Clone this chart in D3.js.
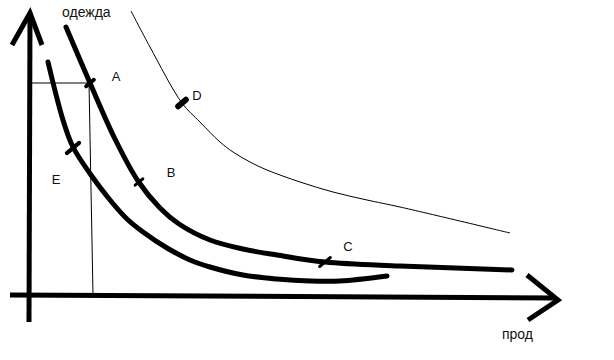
<!DOCTYPE html>
<html><head><meta charset="utf-8">
<script src="https://cdn.jsdelivr.net/npm/d3@7"></script>
<style>html,body{margin:0;padding:0;background:#fff;}svg{display:block;}</style>
</head><body><div id="chart"></div>
<script>
// Axis labels
const yAxisLabel = "одежда";
const xAxisLabel = "прод";

// Indifference curves (x = quantity of food, y = quantity of clothing)
const curveABC_x = [37, 61, 86, 109, 131, 150, 181, 214, 248, 296, 371, 483];
const curveABC_y = [268, 212, 156, 114, 87, 71, 55, 46, 40, 33, 29, 25];

const curveE_x = [19, 34, 44, 62, 81, 98, 114, 138, 161, 181, 214, 248, 281, 311, 358];
const curveE_y = [233, 175, 148, 120, 95, 76, 63, 47, 35, 28, 20, 16, 14, 14, 19];

const curveD_x = [102, 121, 153, 171, 191, 204, 221, 238, 271, 304, 338, 371, 481];
const curveD_y = [284, 248, 192, 173, 153, 143, 133, 125, 113, 103, 95, 88, 62];

// Marked bundles
const pointNames = ["A", "B", "C", "D", "E"];
const pointX = [61, 110, 296, 153, 44];
const pointY = [212, 113, 33, 192, 147];

const W = 614, H = 360;
const svg = d3.select("#chart").append("svg").attr("width", W).attr("height", H);

const x = d3.scaleLinear().domain([0, 530]).range([29, 559]);
const y = d3.scaleLinear().domain([0, 300]).range([295, -5]);

const zip = (a, b) => a.map((v, i) => [v, b[i]]);
const line = d3.line().x(d => x(d[0])).y(d => y(d[1])).curve(d3.curveCatmullRom.alpha(0.5));

// guide lines for A
const ai = 0;
svg.append("line").attr("x1", x(0)+2).attr("y1", y(pointY[ai])).attr("x2", x(pointX[ai])).attr("y2", y(pointY[ai]))
  .attr("stroke", "#000").attr("stroke-width", 1);
svg.append("line").attr("x1", x(pointX[ai])-1).attr("y1", y(pointY[ai])).attr("x2", x(pointX[ai])+3).attr("y2", y(0))
  .attr("stroke", "#000").attr("stroke-width", 1);

// curves
svg.append("path").attr("d", line(zip(curveD_x, curveD_y))).attr("fill", "none").attr("stroke", "#000").attr("stroke-width", 1);
svg.append("path").attr("d", line(zip(curveABC_x, curveABC_y))).attr("fill", "none").attr("stroke", "#000").attr("stroke-width", 5).attr("stroke-linecap", "round");
svg.append("path").attr("d", line(zip(curveE_x, curveE_y))).attr("fill", "none").attr("stroke", "#000").attr("stroke-width", 5).attr("stroke-linecap", "round");

// axes
const ax = svg.append("g").attr("stroke", "#000").attr("stroke-width", 5).attr("fill", "none").attr("stroke-linecap", "butt");
ax.append("line").attr("x1", x(0)).attr("y1", y(-27)).attr("x2", x(0)+1).attr("y2", y(282));
ax.append("path").attr("d", `M${x(-17)},${y(250)} L${x(1)},${y(282)} L${x(13)},${y(250)}`).attr("stroke-linejoin", "miter");
ax.append("line").attr("x1", x(-19)).attr("y1", y(0)).attr("x2", x(527)).attr("y2", y(-3));
ax.append("path").attr("d", `M${x(498)},${y(20)} L${x(529)},${y(-5)} L${x(499)},${y(-25)}`).attr("stroke-linejoin", "miter");

// point ticks and labels
const tickLen = [5, 5, 7, 5, 8];
const tickW = [4, 3, 3, 6, 4];
const labelDX = [26, 32, 23, 15, -17];
const labelDY = [-7, -10, -16, -8, 31];
pointNames.forEach((n, i) => {
  const cx = x(pointX[i]), cy = y(pointY[i]);
  const a = -40 * Math.PI / 180, L = tickLen[i];
  svg.append("line").attr("x1", cx - L*Math.cos(a)).attr("y1", cy - L*Math.sin(a))
    .attr("x2", cx + L*Math.cos(a)).attr("y2", cy + L*Math.sin(a))
    .attr("stroke", "#000").attr("stroke-width", tickW[i]).attr("stroke-linecap", "round");
  svg.append("text").attr("x", cx + labelDX[i]).attr("y", cy + labelDY[i]).attr("dy", "0.35em")
    .attr("text-anchor", "middle").attr("font-family", "Liberation Sans, Arial, sans-serif")
    .attr("font-size", 13).attr("fill", "#111").text(n);
});

svg.append("text").attr("x", 62).attr("y", 17).attr("font-family", "Liberation Sans, Arial, sans-serif")
  .attr("font-size", 14).attr("fill", "#111").text(yAxisLabel);
svg.append("text").attr("x", 502).attr("y", 339).attr("font-family", "Liberation Sans, Arial, sans-serif")
  .attr("font-size", 14).attr("fill", "#111").text(xAxisLabel);
</script></body></html>
